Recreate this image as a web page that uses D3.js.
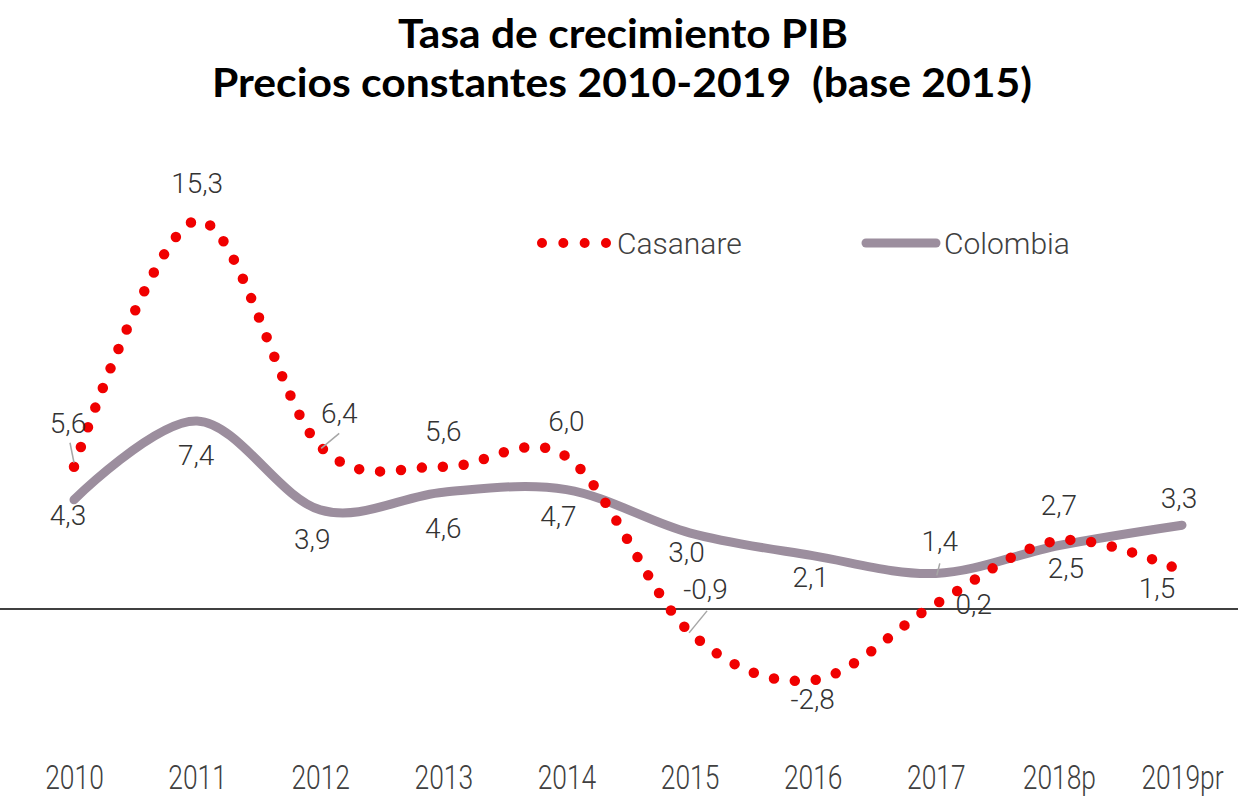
<html>
<head>
<meta charset="utf-8">
<script src="https://d3js.org/d3.v7.min.js"></script>
<style>
  body { margin: 0; background: #fff; }
  svg { display: block; }
  text { white-space: pre; }
</style>
</head>
<body>
<div id="chart"></div>
<script>
// data
var years = ["2010", "2011", "2012", "2013", "2014", "2015", "2016", "2017", "2018p", "2019pr"];
var casanare = [5.6, 15.3, 6.4, 5.6, 6.0, -0.9, -2.8, 0.2, 2.7, 1.5];
var colombia = [4.3, 7.4, 3.9, 4.6, 4.7, 3.0, 2.1, 1.4, 2.5, 3.3];

// label placement relative to the point (px): [dx, dy]
var casLabelPos = [[-6, -34], [0, -27], [19, -23], [0, -26], [0, -26], [16, -33], [0, 29], [38, 10], [0, -25], [-25, 27]];
var colLabelPos = [[-6, 25], [-1, 44], [-8, 39], [0, 46], [-8, 36], [-3, 29], [-2, 31], [4, -22], [7, 32], [-3, -17]];
// leader lines: index -> [x1, y1, x2, y2] relative to point
var casLeaders = {0: [-4, -24, 0, -4], 2: [19, -13, 1, 2], 5: [17.5, -21, -0.5, 1]};
var colLeaders = {7: [4, -10, 1, 2]};

var W = 1238, H = 796;
var svg = d3.select("#chart").append("svg")
    .attr("width", W)
    .attr("height", H);

var x = d3.scalePoint()
    .domain(years)
    .range([74, 1182]);

var y = d3.scaleLinear()
    .domain([0, 15.3])
    .range([609, 220.4]);

// title
var title = svg.append("g")
    .attr("font-family", "Lato, 'DejaVu Sans', sans-serif")
    .attr("font-weight", 700)
    .attr("fill", "#000")
    .attr("text-anchor", "middle");
title.append("text")
    .attr("x", 623).attr("y", 48)
    .attr("font-size", 40)
    .attr("textLength", 450).attr("lengthAdjust", "spacingAndGlyphs")
    .text("Tasa de crecimiento PIB");
title.append("text")
    .attr("x", 622).attr("y", 97)
    .attr("font-size", 40)
    .attr("textLength", 820).attr("lengthAdjust", "spacingAndGlyphs")
    .text("Precios constantes 2010-2019  (base 2015)");

// zero line
svg.append("line")
    .attr("x1", 0).attr("x2", W)
    .attr("y1", y(0)).attr("y2", y(0))
    .attr("stroke", "#000")
    .attr("stroke-width", 1.5);

// x axis
var xAxis = svg.append("g")
    .attr("transform", "translate(0,766)")
    .call(d3.axisBottom(x).tickSize(0).tickPadding(0));
xAxis.select(".domain").remove();
xAxis.selectAll("text")
    .attr("font-family", "Roboto, sans-serif")
    .attr("font-weight", 300)
    .attr("font-size", 33)
    .attr("fill", "#404040")
    .attr("transform", "scale(0.8,1)");

var line = d3.line()
    .x(function(d, i) { return x(years[i]); })
    .y(function(d) { return y(d); })
    .curve(d3.curveCardinal.tension(0));

// Colombia
svg.append("path")
    .datum(colombia)
    .attr("d", line)
    .attr("fill", "none")
    .attr("stroke", "#9c8e9e")
    .attr("stroke-width", 9)
    .attr("stroke-linecap", "round")
    .attr("stroke-linejoin", "round");

// Casanare
svg.append("path")
    .datum(casanare)
    .attr("d", line)
    .attr("fill", "none")
    .attr("stroke", "#f00000")
    .attr("stroke-width", 10.5)
    .attr("stroke-linecap", "round")
    .attr("stroke-dasharray", "0 21");

// leader lines
function drawLeaders(vals, leaders) {
    Object.keys(leaders).forEach(function(k) {
        var i = +k, l = leaders[k];
        var px = x(years[i]), py = y(vals[i]);
        svg.append("line")
            .attr("x1", px + l[0]).attr("y1", py + l[1])
            .attr("x2", px + l[2]).attr("y2", py + l[3])
            .attr("stroke", "#a6a6a6")
            .attr("stroke-width", 1.5);
    });
}
drawLeaders(casanare, casLeaders);
drawLeaders(colombia, colLeaders);

// data labels
function fmt(v) { return d3.format(".1f")(v).replace(".", ",").replace("−", "-"); }
function drawLabels(vals, pos) {
    svg.append("g")
        .attr("font-family", "Roboto, sans-serif")
        .attr("font-weight", 300)
        .attr("font-size", 28)
        .attr("fill", "#333")
        .attr("text-anchor", "middle")
        .selectAll("text")
        .data(vals)
        .enter()
        .append("text")
        .attr("x", function(d, i) { return x(years[i]) + pos[i][0]; })
        .attr("y", function(d, i) { return y(d) + pos[i][1]; })
        .text(function(d) { return fmt(d); });
}
drawLabels(casanare, casLabelPos);
drawLabels(colombia, colLabelPos);

// legend
var lg = svg.append("g");
lg.append("line")
    .attr("x1", 542).attr("x2", 606)
    .attr("y1", 243).attr("y2", 243)
    .attr("stroke", "#f00000")
    .attr("stroke-width", 10)
    .attr("stroke-linecap", "round")
    .attr("stroke-dasharray", "0 21.33");
lg.append("text")
    .attr("x", 617).attr("y", 254)
    .attr("font-family", "Roboto, sans-serif")
    .attr("font-weight", 300)
    .attr("font-size", 30)
    .attr("fill", "#404040")
    .text("Casanare");
lg.append("line")
    .attr("x1", 866).attr("x2", 936)
    .attr("y1", 243).attr("y2", 243)
    .attr("stroke", "#9c8e9e")
    .attr("stroke-width", 9)
    .attr("stroke-linecap", "round");
lg.append("text")
    .attr("x", 944).attr("y", 254)
    .attr("font-family", "Roboto, sans-serif")
    .attr("font-weight", 300)
    .attr("font-size", 30)
    .attr("fill", "#404040")
    .text("Colombia");
</script>
</body>
</html>
